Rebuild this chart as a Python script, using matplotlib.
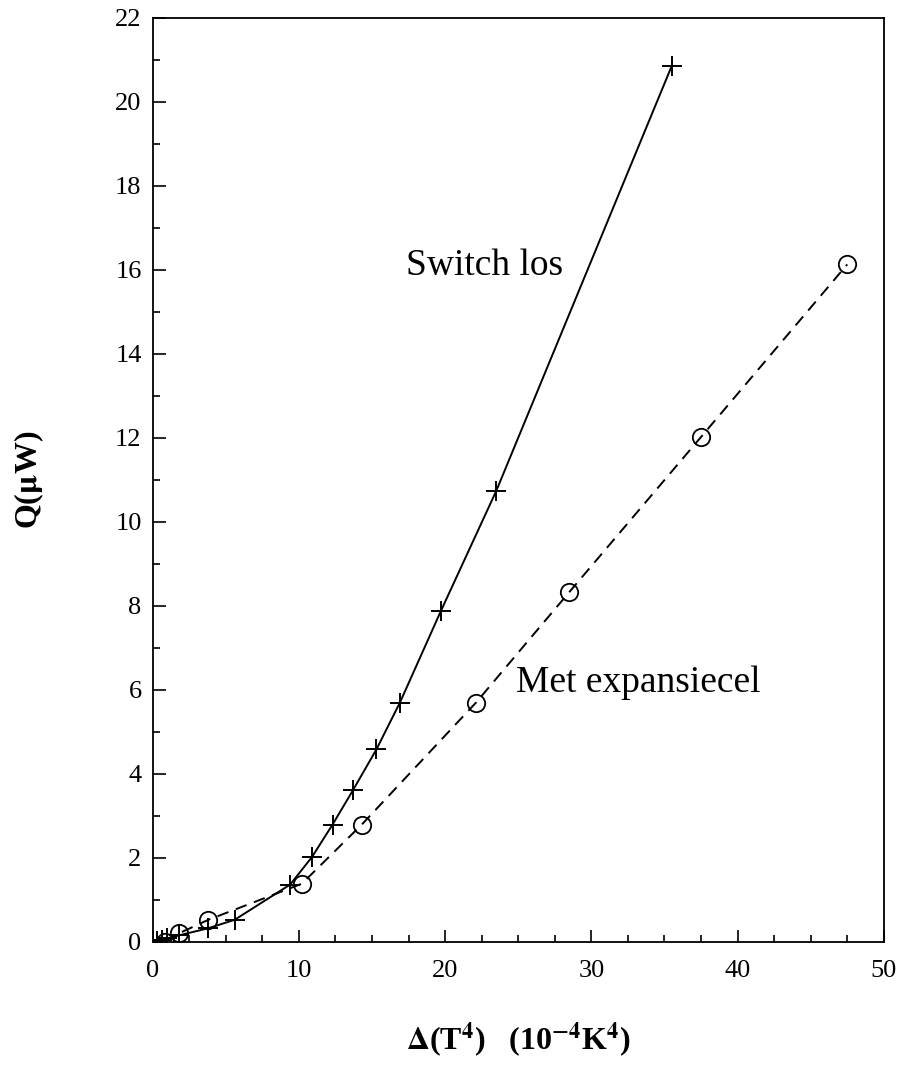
import matplotlib
matplotlib.use("Agg")
import matplotlib.pyplot as plt
from matplotlib.ticker import MultipleLocator

plt.rcParams['font.family'] = ['Liberation Serif', 'DejaVu Serif']
plt.rcParams['mathtext.fontset'] = 'stix'

# Switch los (plus markers, solid line)
los_x = [0.3, 0.6, 1.0, 1.8, 3.8, 5.6, 9.4, 10.9, 12.3, 13.7, 15.3, 16.9, 19.7, 23.5, 35.5]
los_y = [0.02, 0.05, 0.08, 0.15, 0.32, 0.52, 1.36, 2.02, 2.79, 3.61, 4.58, 5.69, 7.87, 10.74, 20.86]

# Met expansiecel (open circles, dashed line)
exp_x = [0.85, 1.8, 3.8, 10.2, 14.3, 22.1, 28.5, 37.5, 47.5]
exp_y = [0.0, 0.2, 0.52, 1.38, 2.79, 5.69, 8.33, 12.02, 16.13]

xticks = [0, 10, 20, 30, 40, 50]
yticks = [0, 2, 4, 6, 8, 10, 12, 14, 16, 18, 20, 22]

fig = plt.figure(figsize=(9, 10.89), dpi=100)
ax = fig.add_axes([0.1697, 0.1353, 0.8123, 0.8482])

ax.plot(los_x, los_y, color='black', linewidth=1.4, marker='+', markersize=15,
        markeredgewidth=1.4)
ax.plot(exp_x, exp_y, color='black', linewidth=1.4, linestyle=(0, (6, 4)),
        marker='o', markersize=12.5, fillstyle='none', markeredgewidth=1.3)

ax.set_xlim(0, 50)
ax.set_ylim(0, 22)
ax.set_xticks(xticks)
ax.set_yticks(yticks)
ax.xaxis.set_minor_locator(MultipleLocator(2.5))
ax.yaxis.set_minor_locator(MultipleLocator(1))
ax.tick_params(which='both', direction='in', top=False, right=False,
               labelsize=19, width=1.2)
ax.tick_params(which='major', length=9)
ax.tick_params(which='minor', length=5)
ax.tick_params(axis='x', pad=13)
ax.tick_params(axis='y', pad=8)
for s in ax.spines.values():
    s.set_linewidth(1.3)

ax.text(22.7, 16.1, 'Switch los', fontsize=27, ha='center', va='center')
ax.text(33.2, 6.17, 'Met expansiecel', fontsize=27, ha='center', va='center')

ax.set_ylabel(r'Q($\mathbf{\mu}$W)', fontsize=23, fontweight='bold', labelpad=50)
ax.set_xlabel(r'$\mathbf{\Delta}$(T$^{\mathbf{4}}$)   (10$^{\mathbf{-4}}$K$^{\mathbf{4}}$)',
              fontsize=23, fontweight='bold', labelpad=28)

fig.savefig('out.png', dpi=100)
